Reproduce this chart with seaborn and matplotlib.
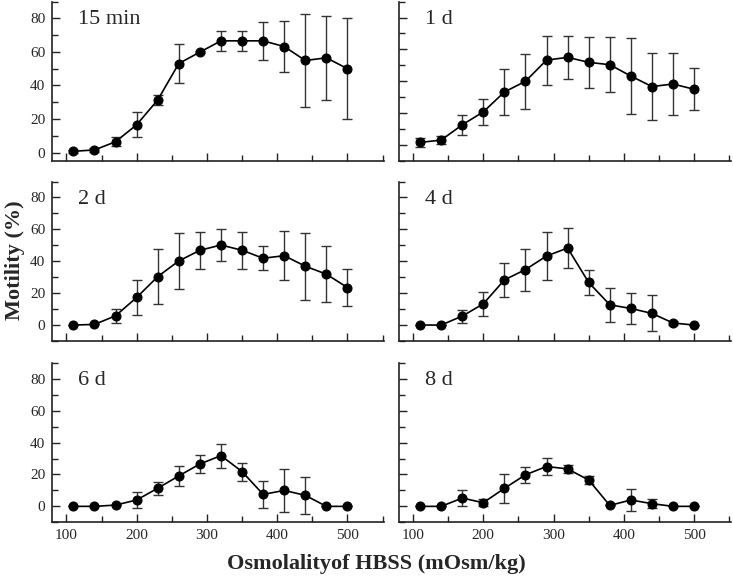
"""
Sperm motility vs. HBSS osmolality at several storage times (3x2 panels).
"""
import numpy as np
import pandas as pd
import matplotlib
matplotlib.use("Agg")
import matplotlib.pyplot as plt
from matplotlib.ticker import MultipleLocator
import seaborn as sns

# 1. Data
osmolality = [110, 140, 170, 200, 230, 260, 290, 320, 350, 380, 410, 440, 470, 500]

panel_labels = ["15 min", "1 d", "2 d", "4 d", "6 d", "8 d"]

mean_15min = [0.8, 1.6, 6.5, 16.6, 31.4, 53.1, 59.9, 66.6, 66.6, 66.6, 63.2, 54.9, 56.5, 50.0]
err_15min = [0.8, 1.0, 2.7, 7.5, 2.8, 11.5, 0.8, 5.8, 5.8, 11.5, 15.3, 27.9, 25.0, 30.0]

mean_1d = [1.7, 3.1, 12.7, 20.8, 33.3, 40.0, 53.3, 55.0, 51.9, 50.4, 43.3, 36.7, 38.3, 35.0]
err_1d = [2.8, 2.5, 6.4, 7.9, 14.6, 17.3, 15.4, 13.3, 16.1, 17.3, 23.6, 20.8, 19.2, 13.2]

mean_2d = [0.0, 0.4, 5.8, 17.3, 30.4, 40.2, 46.9, 50.2, 46.9, 41.9, 43.5, 36.9, 31.9, 23.5]
err_2d = [0.0, 0.0, 4.2, 11.1, 17.2, 17.4, 11.6, 10.0, 11.6, 7.5, 15.2, 21.0, 17.6, 11.6]

mean_4d = [0.0, 0.0, 5.6, 13.3, 28.3, 34.8, 43.3, 48.3, 26.7, 12.7, 10.4, 7.3, 1.3, 0.0]
err_4d = [0.0, 0.0, 4.0, 7.6, 10.5, 13.2, 15.2, 12.6, 7.7, 10.7, 9.5, 11.3, 1.1, 0.0]

mean_6d = [0.0, 0.0, 0.8, 4.0, 11.4, 19.1, 26.6, 31.8, 21.8, 7.5, 10.0, 6.9, 0.0, 0.0]
err_6d = [0.0, 0.0, 0.0, 5.3, 4.0, 6.4, 5.8, 7.6, 5.7, 8.7, 13.3, 11.4, 0.0, 0.0]

mean_8d = [0.0, 0.0, 5.2, 2.3, 11.3, 19.8, 25.0, 23.5, 16.5, 0.6, 4.0, 1.7, 0.0, 0.0]
err_8d = [0.0, 0.0, 4.9, 2.2, 9.1, 5.0, 5.1, 2.6, 2.7, 0.0, 6.9, 2.8, 0.0, 0.0]

means = [mean_15min, mean_1d, mean_2d, mean_4d, mean_6d, mean_8d]
errs = [err_15min, err_1d, err_2d, err_4d, err_6d, err_8d]

# 2. Style
sns.set_style("ticks")
plt.rcParams["font.family"] = ["Liberation Serif", "DejaVu Serif"]

# 3. Figure: axes placed by hand to match the original layout
fig = plt.figure(figsize=(7.33, 5.83), dpi=100)
col_left = [0.0714, 0.5443]
col_width = 0.4525
row_bottom = [0.7238, 0.4151, 0.1041]
row_height = 0.2735

for i, (label, m, e) in enumerate(zip(panel_labels, means, errs)):
    r, c = divmod(i, 2)
    ax = fig.add_axes([col_left[c], row_bottom[r], col_width, row_height])
    df = pd.DataFrame({"x": osmolality, "y": m, "err": e})

    ax.errorbar(df["x"], df["y"], yerr=df["err"], fmt="none",
                ecolor="#333333", elinewidth=1.0, capsize=3.5, capthick=1.0, zorder=2)
    sns.lineplot(data=df, x="x", y="y", ax=ax, color="black", linewidth=1.2,
                 marker="o", markersize=6.5, markeredgecolor="black", zorder=3)

    ax.set_xlim(80, 552)
    ax.set_ylim(-5 if i == 0 else -10, 90)
    ax.xaxis.set_major_locator(MultipleLocator(100))
    ax.xaxis.set_minor_locator(MultipleLocator(50))
    ax.yaxis.set_major_locator(MultipleLocator(20))
    ax.yaxis.set_minor_locator(MultipleLocator(10))
    ax.set_yticks([0, 20, 40, 60, 80])
    ax.tick_params(which="both", direction="in", width=1.0, color="#222222",
                   labelsize=11, pad=5)
    ax.tick_params(which="major", length=6)
    ax.tick_params(which="minor", length=4)
    for s in ["left", "bottom"]:
        ax.spines[s].set_linewidth(1.2)
        ax.spines[s].set_color("#222222")
    sns.despine(ax=ax)

    ax.set_xlabel("")
    ax.set_ylabel("")
    if c == 1:
        ax.tick_params(axis="y", labelleft=False)
    if r < 2:
        ax.tick_params(axis="x", labelbottom=False)

    ax.text(0.077, 0.86, label, transform=ax.transAxes, fontsize=16,
            ha="left", va="baseline")

fig.text(0.513, 0.032, "Osmolalityof HBSS (mOsm/kg)", ha="center", va="center",
         fontsize=16, fontweight="bold")
fig.text(0.02, 0.554, "Motility (%)", ha="center", va="center", rotation=90,
         fontsize=16, fontweight="bold")

fig.savefig("out.png", dpi=100)
